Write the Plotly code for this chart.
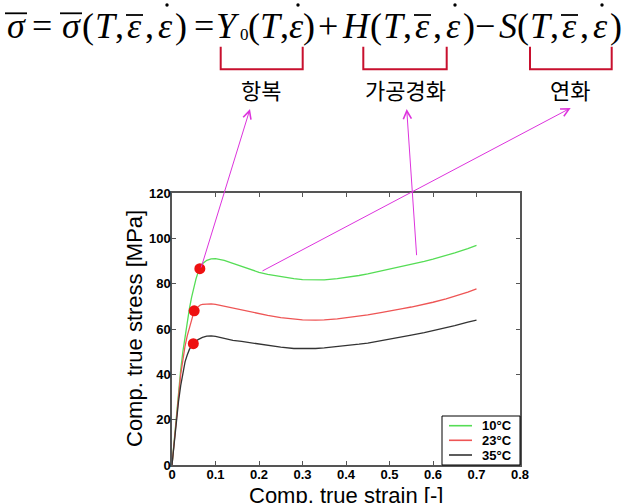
import plotly.graph_objects as go

# ---------------- data ----------------
strain = [0, 0.005, 0.01, 0.015, 0.02, 0.025, 0.03, 0.035, 0.04, 0.045, 0.05, 0.055,
          0.06, 0.065, 0.07, 0.08, 0.09, 0.1, 0.11, 0.12, 0.14, 0.16, 0.18, 0.2, 0.22,
          0.25, 0.28, 0.3, 0.33, 0.35, 0.38, 0.4, 0.43, 0.45, 0.48, 0.5, 0.53, 0.55,
          0.58, 0.6, 0.63, 0.65, 0.68, 0.7]

stress_10C = [0, 11, 21, 31, 42, 50, 57, 63, 69, 74, 78.5, 82, 85, 87, 88.8, 90.3, 90.9,
              91.0, 90.8, 90.3, 89.0, 87.6, 86.2, 85.0, 84.1, 83.0, 82.2, 81.8, 81.6,
              81.7, 82.2, 82.7, 83.6, 84.3, 85.5, 86.3, 87.6, 88.4, 89.8, 90.8, 92.4,
              93.6, 95.5, 96.9]

stress_23C = [0, 11, 21, 30, 40, 47, 52.5, 57, 60.5, 64, 67.3, 69, 70, 70.6, 70.9, 71.1,
              71.1, 70.9, 70.5, 70.0, 69.0, 68.2, 67.5, 66.8, 66.0, 65.0, 64.3, 64.0,
              63.9, 64.0, 64.5, 64.9, 65.6, 66.2, 67.2, 67.8, 69.0, 69.7, 70.9, 71.8,
              73.3, 74.4, 76.3, 77.7]

stress_35C = [0, 10, 20, 28, 35, 41, 45.5, 48.5, 51, 52.5, 53.8, 54.6, 55.3, 55.8, 56.3,
              56.9, 57.0, 56.7, 56.2, 55.8, 55.0, 54.5, 53.9, 53.3, 52.8, 52.0, 51.4,
              51.3, 51.4, 51.7, 52.2, 52.6, 53.3, 53.8, 54.8, 55.4, 56.5, 57.3, 58.4,
              59.2, 60.6, 61.5, 63.0, 63.9]

series_names = ["10°C", "23°C", "35°C"]
series_colors = ["#55dd55", "#ee5555", "#333333"]

yield_strain = [0.064, 0.051, 0.049]
yield_stress = [86.6, 68.0, 53.5]

x_ticks = [0, 0.1, 0.2, 0.3, 0.4, 0.5, 0.6, 0.7, 0.8]
y_ticks = [0, 20, 40, 60, 80, 100, 120]

term_labels = ["항복", "가공경화", "연화"]

# ---------------- layout geometry (pixels) ----------------
W_FIG, H_FIG = 627, 503
L, R, T, B = 172, 520, 193, 465
PW, PH = R - L, B - T


def xp(px):
    return (px - L) / PW


def yp(py):
    return (B - py) / PH


fig = go.Figure()
for ys, name, col in zip([stress_10C, stress_23C, stress_35C], series_names, series_colors):
    fig.add_trace(go.Scatter(x=strain, y=ys, mode="lines", name=name,
                             line=dict(color=col, width=1.3), showlegend=False))

fig.add_trace(go.Scatter(x=yield_strain, y=yield_stress, mode="markers", showlegend=False,
                         marker=dict(color="#ee1111", size=11), cliponaxis=False))

axis_common = dict(showgrid=False, zeroline=False, showline=True, linecolor="#555555",
                   linewidth=1.5, mirror="ticks", ticks="inside", ticklen=4,
                   tickcolor="#555555", ticklabelstandoff=-3,
                   tickfont=dict(family="Liberation Sans", size=13, color="black",
                                 weight="bold"))

fig.update_xaxes(range=[0, 0.8], tickvals=x_ticks,
                 ticktext=[f"{v:g}" for v in x_ticks], **axis_common)
fig.update_yaxes(range=[0, 120], tickvals=y_ticks,
                 ticktext=[str(v) for v in y_ticks], **axis_common)

annotations = []
shapes = []

# ---------------- equation, glyph by glyph ----------------
EQ_Y = 26
EQ_SIZE = 36
eq_tokens = []  # (html text, centre x, accent)


def group3(start):
    return [("(", start + 5, None), ("<i>T</i>,", start + 26.5, None),
            ("<i>ε</i>", start + 51, "bar"), (",", start + 66.5, None),
            ("<i>ε</i>", start + 82, "dot"), (")", start + 98, None)]


def group2(start):
    return [("(", start + 4, None), ("<i>T</i>,", start + 24.5, None),
            ("<i>ε</i>", start + 46, "dot"), (")", start + 59, None)]


eq_tokens += [("<i>σ</i>", 16, "barw"), ("=", 41.5, None), ("<i>σ</i>", 71, "barw")]
eq_tokens += group3(83)
eq_tokens += [("=", 203.5, None), ("<i>Y</i>", 228, None)]
eq_tokens += group2(250)
eq_tokens += [("+", 328, None), ("<i>H</i>", 356, None)]
eq_tokens += group3(371)
eq_tokens += [("−", 485, None), ("<i>S</i>", 508, None)]
eq_tokens += group3(518)

for txt, cx, acc in eq_tokens:
    annotations.append(dict(x=xp(cx), y=yp(EQ_Y), xref="paper", yref="paper",
                            text=txt, showarrow=False,
                            xanchor="center", yanchor="middle",
                            font=dict(family="Liberation Serif", size=EQ_SIZE, color="black")))
    if acc == "barw":
        shapes.append(dict(type="line", xref="paper", yref="paper",
                           x0=xp(cx - 11), x1=xp(cx + 11), y0=yp(13.3), y1=yp(13.3),
                           line=dict(color="black", width=1.8)))
    elif acc == "bar":
        shapes.append(dict(type="line", xref="paper", yref="paper",
                           x0=xp(cx - 8), x1=xp(cx + 9), y0=yp(15), y1=yp(15),
                           line=dict(color="black", width=1.8)))
    elif acc == "dot":
        shapes.append(dict(type="circle", xref="paper", yref="paper",
                           x0=xp(cx + 0.3), x1=xp(cx + 3.7), y0=yp(3.3), y1=yp(6.7),
                           fillcolor="black", line=dict(width=0)))

# subscript 0 of Y
annotations.append(dict(x=xp(244), y=yp(34), xref="paper", yref="paper", text="0",
                        showarrow=False, xanchor="center", yanchor="middle",
                        font=dict(family="Liberation Serif", size=17, color="black")))

# term labels
label_x = [261, 405, 570]
for lbl, lx in zip(term_labels, label_x):
    annotations.append(dict(x=xp(lx), y=yp(89), xref="paper", yref="paper", text=lbl,
                            showarrow=False, xanchor="center", yanchor="middle",
                            font=dict(family="Noto Sans CJK KR", size=22, color="black")))

# brackets
for x0, x1 in [(220.7, 302.7), (363.3, 446.7), (530, 611.7)]:
    y0, y1 = 46.7, 69.3
    path = (f"M {xp(x0)},{yp(y0)} L {xp(x0)},{yp(y1)} L {xp(x1)},{yp(y1)} "
            f"L {xp(x1)},{yp(y0)}")
    shapes.append(dict(type="path", xref="paper", yref="paper", path=path,
                       line=dict(color="#c8102e", width=2)))

# arrows (head, tail in pixels)
arrows = [((250, 109), (200.7, 269)), ((406.7, 109), (416.7, 256.7)),
          ((570.7, 108), (261, 271.7))]
for (hx, hy), (tx, ty) in arrows:
    annotations.append(dict(x=xp(hx), y=yp(hy), xref="paper", yref="paper", text="",
                            showarrow=True, axref="pixel", ayref="pixel",
                            ax=tx - hx, ay=ty - hy, arrowhead=5, arrowsize=1.6,
                            arrowwidth=1, arrowcolor="#dd33dd", standoff=0))

# axis titles
annotations.append(dict(x=0.5, y=yp(495), xref="paper", yref="paper",
                        text="Comp. true strain [-]", showarrow=False,
                        xanchor="center", yanchor="middle",
                        font=dict(family="Liberation Sans", size=22, color="black")))
annotations.append(dict(x=xp(134), y=0.5, xref="paper", yref="paper",
                        text="Comp. true stress [MPa]", showarrow=False, textangle=-90,
                        xanchor="center", yanchor="middle",
                        font=dict(family="Liberation Sans", size=22, color="black")))

# legend box (drawn in the lower-right corner of the plot)
LG_X0, LG_X1, LG_Y0, LG_Y1 = 442, 520, 416, 465
shapes.append(dict(type="rect", xref="paper", yref="paper",
                   x0=xp(LG_X0), x1=xp(LG_X1), y0=yp(LG_Y1), y1=yp(LG_Y0),
                   fillcolor="white", line=dict(color="black", width=1), layer="above"))
row_y = [425.7, 440.3, 455]
for name, col, ry in zip(series_names, series_colors, row_y):
    shapes.append(dict(type="line", xref="paper", yref="paper",
                       x0=xp(449), x1=xp(472), y0=yp(ry), y1=yp(ry),
                       line=dict(color=col, width=1.6), layer="above"))
    annotations.append(dict(x=xp(480), y=yp(ry), xref="paper", yref="paper", text=name,
                            showarrow=False, xanchor="left", yanchor="middle",
                            font=dict(family="Liberation Sans", size=13, color="black",
                                      weight="bold")))

fig.update_layout(
    width=W_FIG, height=H_FIG,
    margin=dict(l=L, r=W_FIG - R, t=T, b=H_FIG - B, pad=0),
    paper_bgcolor="white", plot_bgcolor="white",
    annotations=annotations, shapes=shapes, showlegend=False,
)

fig.write_html("out.html")
